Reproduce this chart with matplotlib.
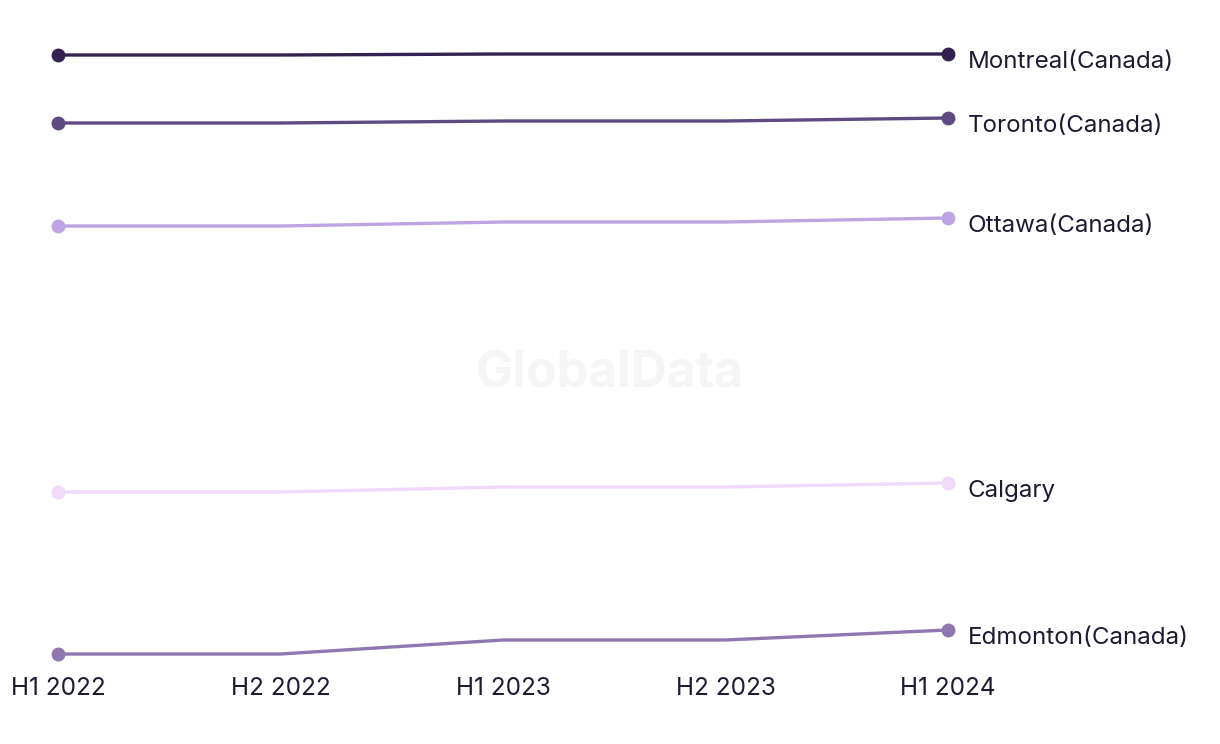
import matplotlib.pyplot as plt

# periods and series (relative scale)
periods = ["H1 2022", "H2 2022", "H1 2023", "H2 2023", "H1 2024"]
cities = ["Montreal(Canada)", "Toronto(Canada)", "Ottawa(Canada)", "Calgary", "Edmonton(Canada)"]
montreal = [645, 645, 646, 646, 646]
toronto = [577, 577, 579, 579, 582]
ottawa = [474, 474, 478, 478, 482]
calgary = [208, 208, 213, 213, 217]
edmonton = [46, 46, 60, 60, 70]
series = [montreal, toronto, ottawa, calgary, edmonton]
colors = ["#33224f", "#5e4a80", "#bda4e2", "#f0d9fb", "#8f77b0"]

plt.rcParams['font.family'] = ['Inter', 'DejaVu Sans']
text_color = "#1c1b33"

fig = plt.figure(figsize=(12.2, 7.44), dpi=100)
ax = fig.add_axes([58 / 1220, 74 / 744, 890 / 1220, 630 / 744])

x = list(range(len(periods)))
for name, vals, c in zip(cities, series, colors):
    ax.plot(x, vals, color=c, lw=2.4, solid_capstyle="round", zorder=2, clip_on=False)
    ax.plot([x[0], x[-1]], [vals[0], vals[-1]], "o", color=c, ms=9, zorder=3, clip_on=False)
    ax.annotate(name, (x[-1], vals[-1]), xytext=(14, -6), textcoords="offset points",
                ha="left", va="center", fontsize=17.4, color=text_color, annotation_clip=False)

ax.set_xlim(0, 4)
ax.set_ylim(30, 660)
ax.set_xticks(x)
ax.set_xticklabels(periods, fontsize=17.5, color=text_color)
ax.tick_params(axis="x", length=0, pad=5)
ax.set_yticks([])
for s in ax.spines.values():
    s.set_visible(False)

# watermark
fig.text(0.5, 0.497, "GlobalData", ha="center", va="center", fontsize=36,
         fontweight="bold", color="#f5f5f5", zorder=0)

fig.savefig("out.png", dpi=100)
